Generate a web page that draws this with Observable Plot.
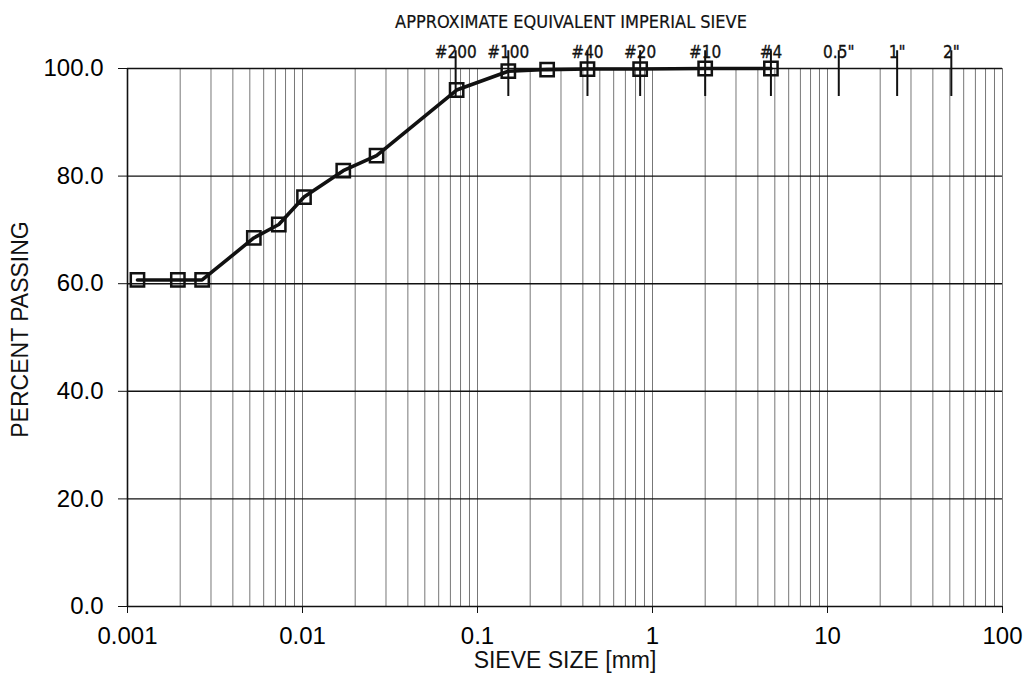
<!DOCTYPE html>
<html>
<head>
<meta charset="utf-8">
<script src="https://cdn.jsdelivr.net/npm/d3@7"></script>
<script src="https://cdn.jsdelivr.net/npm/@observablehq/plot@0.6"></script>
<style>
  html, body { margin: 0; padding: 0; background: #fff; }
  #chart { width: 1026px; height: 675px; }
</style>
</head>
<body>
<div id="chart"></div>
<script>
// ---- data ----
const sieveSizeMm = [0.00114, 0.00194, 0.00267, 0.00527, 0.00732, 0.0102, 0.0171, 0.0265, 0.076, 0.15, 0.25, 0.425, 0.85, 2.0, 4.75];
const percentPassing = [60.7, 60.7, 60.7, 68.5, 71.0, 76.1, 81.0, 83.8, 96.0, 99.5, 99.8, 99.9, 99.9, 100.0, 100.0];

const imperialLabels = ["#200", "#100", "#40", "#20", "#10", "#4", "0.5\"", "1\"", "2\""];
const imperialSizesMm = [0.075, 0.15, 0.425, 0.85, 2.0, 4.75, 11.6, 25.0, 51.0];

const xTickValues = [0.001, 0.01, 0.1, 1, 10, 100];
const yTickValues = [0, 20, 40, 60, 80, 100];
const xGridValues = d3.scaleLog().domain([0.001, 100]).ticks();

const titleText = "APPROXIMATE EQUIVALENT IMPERIAL SIEVE";
const xLabel = "SIEVE SIZE [mm]";
const yLabel = "PERCENT PASSING";

const points = sieveSizeMm.map((x, i) => ({x, y: percentPassing[i]}));
const imperial = imperialSizesMm.map((x, i) => ({x, label: imperialLabels[i]}));

const narrow = "'Liberation Sans Narrow', 'Arial Narrow', 'DejaVu Sans Condensed', sans-serif";

const chart = Plot.plot({
  width: 1026,
  height: 675,
  marginLeft: 127,
  marginRight: 24,
  marginTop: 68,
  marginBottom: 69,
  style: {fontFamily: "'Liberation Sans', Arial, sans-serif", background: "#fff", color: "#000"},
  x: {type: "log", domain: [0.001, 100]},
  y: {domain: [0, 100]},
  marks: [
    Plot.gridX(xGridValues, {stroke: "#777", strokeOpacity: 1, strokeWidth: 1}),
    Plot.gridY(yTickValues, {stroke: "#111", strokeOpacity: 1, strokeWidth: 1.4}),
    Plot.ruleX([xTickValues[0]], {stroke: "#111", strokeWidth: 1.6}),
    Plot.axisX(xTickValues, {
      tickSize: 7, tickPadding: 13, fontSize: 24, stroke: "#111",
      tickFormat: d => String(d), label: null
    }),
    Plot.axisY(yTickValues, {
      tickSize: 9, tickPadding: 15, fontSize: 24, stroke: "#111",
      tickFormat: d => d.toFixed(1), label: null
    }),
    // imperial sieve markers above the plot
    Plot.ruleX(imperial, {x: "x", y1: 94.8, y2: 103.3, stroke: "#111", strokeWidth: 2}),
    Plot.text(imperial, {
      x: "x", y: 101.9, text: "label", lineAnchor: "bottom", textAnchor: "middle",
      fontSize: 17, fontFamily: narrow, fill: "#111", stroke: "#111", strokeWidth: 0.3
    }),
    // grading curve
    Plot.line(points, {x: "x", y: "y", stroke: "#111", strokeWidth: 3.6, strokeLinejoin: "round"}),
    Plot.dot(points, {x: "x", y: "y", symbol: "square", r: 7.5, stroke: "#111", strokeWidth: 2.5, fill: "none"}),
    // title and axis labels
    Plot.text([titleText], {
      frameAnchor: "top", dy: -41, dx: 6, lineAnchor: "bottom", textAnchor: "middle",
      fontSize: 18, fontFamily: narrow, fill: "#111", stroke: "#111", strokeWidth: 0.2
    }),
    Plot.text([xLabel], {
      frameAnchor: "bottom", dy: 54, lineAnchor: "middle", textAnchor: "middle",
      fontSize: 23, fill: "#111"
    }),
    Plot.text([yLabel], {
      frameAnchor: "left", dx: -107, dy: -8, rotate: -90, lineAnchor: "middle", textAnchor: "middle",
      fontSize: 23, fill: "#111"
    })
  ]
});
document.getElementById("chart").append(chart);
</script>
</body>
</html>
